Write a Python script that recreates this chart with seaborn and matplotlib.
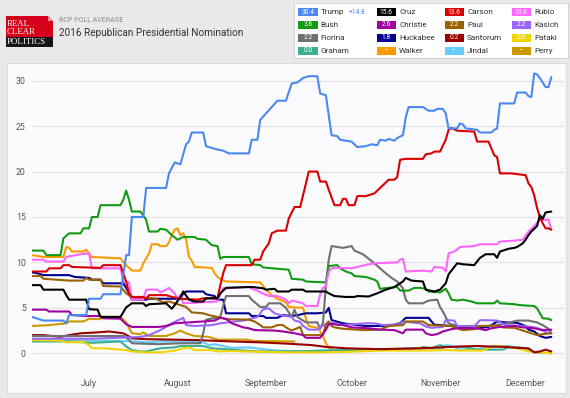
import numpy as np
import pandas as pd
import matplotlib
matplotlib.use("Agg")
import matplotlib.pyplot as plt
import seaborn as sns
from matplotlib.patches import Rectangle, Polygon

# ---------------- data: (days since 2015-06-11, RCP average %) ----------------
START = "2015-06-11"

TRUMP = [(0,4.0),(4,3.6),(11,3.6),(12,3.3),(13,4.2),(19,4.2),(20,6.0),(24,6.0),(25,6.5),(31,6.5),(33,10.8),(34,10.8),(35,15.0),(39,15.0),(40,18.2),(47,18.2),(48,19.8),(50,21.0),(52,20.8),(54,23.0),(55,23.3),(56,24.3),(60,24.3),(61,22.8),(64,22.5),(67,22.3),(69,22.0),(76,22.0),(77,23.5),(79,23.5),(80,25.7),(82,26.4),(84,27.1),(86,27.8),(89,27.8),(91,29.7),(93,29.8),(95,30.3),(97,30.5),(100,30.5),(101,28.6),(103,28.4),(105,24.0),(107,23.9),(108,23.5),(112,23.3),(114,22.7),(117,22.8),(119,23.0),(121,22.9),(122,23.5),(124,23.4),(125,23.6),(127,23.4),(128,23.7),(130,24.0),(131,26.0),(132,27.1),(137,27.1),(139,26.7),(141,26.7),(142,26.9),(144,26.9),(145,26.4),(146,24.75),(149,24.75),(150,25.3),(151,25.2),(152,24.75),(156,24.6),(157,24.3),(161,24.3),(162,24.6),(163,24.75),(164,27.5),(169,27.5),(170,28.7),(173,28.7),(174,28.3),(175,28.2),(176,30.8),(177,30.7),(178,30.3),(180,29.3),(181,29.3),(182,30.4)]

CRUZ = [(0,7.5),(3,7.5),(4,7.0),(11,7.0),(12,6.4),(13,5.9),(19,5.9),(20,4.85),(23,4.8),(24,4.0),(31,4.0),(33,5.05),(35,5.5),(39,5.5),(40,5.2),(41,5.4),(47,5.5),(49,4.9),(50,5.3),(52,6.2),(53,6.8),(55,5.9),(57,5.7),(60,5.7),(61,6.05),(65,6.05),(66,6.6),(68,7.2),(77,7.3),(81,7.15),(82,7.0),(85,7.1),(86,6.8),(90,6.8),(91,7.0),(95,7.0),(96,6.8),(103,6.8),(104,6.6),(106,6.3),(110,6.2),(113,6.2),(114,6.3),(118,6.25),(121,6.6),(124,7.0),(127,7.3),(130,7.9),(131,8.3),(133,8.0),(137,7.9),(138,7.0),(141,6.8),(143,7.0),(145,7.7),(146,8.7),(147,9.1),(149,9.9),(151,9.8),(155,9.7),(157,10.5),(159,10.9),(162,10.9),(163,10.5),(164,11.2),(167,11.5),(169,11.6),(170,11.7),(172,12.1),(173,12.5),(174,13.0),(175,13.4),(176,13.7),(177,14.0),(178,15.2),(179,14.8),(180,15.5),(182,15.6)]

CARSON = [(0,9.0),(5,9.0),(6,9.35),(10,9.35),(11,9.7),(13,9.7),(14,9.5),(24,9.4),(25,9.7),(31,9.7),(32,8.8),(33,7.9),(34,6.6),(35,6.2),(39,6.2),(40,6.0),(41,6.4),(47,6.4),(49,6.2),(52,6.0),(58,5.9),(60,6.05),(65,6.05),(66,7.5),(67,8.8),(68,9.7),(77,9.7),(78,10.3),(80,10.3),(81,11.2),(83,12.1),(84,13.2),(86,13.5),(89,13.5),(90,14.85),(92,16.1),(94,16.1),(97,20.0),(100,20.0),(101,18.9),(103,18.9),(104,18.0),(106,16.3),(108,16.3),(109,17.0),(110,17.0),(111,16.3),(113,16.3),(114,17.3),(117,17.3),(120,17.6),(122,18.2),(123,18.5),(125,19.1),(127,19.1),(128,19.4),(129,21.3),(131,21.4),(137,21.4),(138,21.9),(140,22.0),(141,22.2),(143,22.2),(145,23.5),(146,24.6),(147,24.8),(149,24.5),(155,24.4),(156,23.3),(160,23.3),(162,21.8),(163,21.6),(164,19.8),(168,19.8),(173,19.6),(174,18.7),(175,18.3),(176,17.4),(177,16.0),(178,15.0),(179,14.3),(180,13.75),(181,13.75),(182,13.6)]

RUBIO = [(0,10.3),(4,10.3),(5,10.1),(11,10.1),(12,10.6),(17,10.9),(20,11.0),(21,9.35),(31,9.35),(32,7.9),(34,7.8),(35,5.9),(39,5.9),(40,7.0),(44,7.0),(45,6.7),(47,7.0),(48,7.2),(50,6.6),(51,6.0),(52,6.4),(53,5.5),(65,5.7),(66,6.5),(67,7.15),(76,7.3),(77,7.1),(79,6.9),(80,6.7),(83,6.3),(86,6.3),(89,5.9),(90,5.5),(91,5.8),(95,5.5),(96,5.2),(100,5.2),(101,6.5),(102,7.2),(103,7.4),(104,9.0),(105,9.35),(107,9.4),(112,9.35),(114,9.5),(118,9.8),(120,9.9),(124,9.95),(128,10.0),(129,10.3),(130,10.4),(131,9.0),(137,9.1),(140,9.0),(141,9.5),(144,9.4),(145,9.0),(146,11.0),(148,11.2),(150,11.7),(155,11.8),(157,12.0),(163,12.0),(164,12.3),(169,12.4),(172,12.5),(174,13.4),(176,14.0),(178,14.7),(181,14.7),(182,13.6)]

BUSH = [(0,11.3),(4,11.3),(5,10.8),(10,10.8),(11,12.65),(13,13.2),(17,13.2),(18,13.75),(20,13.75),(21,15.0),(23,15.0),(24,16.3),(31,16.3),(32,16.9),(33,17.9),(34,16.9),(35,15.6),(38,15.6),(40,14.7),(41,13.4),(44,13.4),(45,13.7),(47,13.6),(49,13.0),(51,12.5),(53,12.8),(57,12.8),(58,12.6),(61,12.5),(63,11.9),(65,11.8),(66,10.4),(67,10.6),(76,10.6),(77,9.8),(80,9.7),(81,9.45),(86,9.3),(90,9.2),(91,8.2),(95,8.1),(96,7.9),(103,7.8),(104,9.6),(107,9.7),(108,9.35),(110,9.0),(112,8.8),(113,8.5),(117,8.4),(120,8.1),(121,7.9),(122,7.1),(128,7.3),(129,6.9),(132,6.9),(134,7.2),(136,7.2),(138,7.1),(139,6.8),(143,6.7),(145,7.1),(146,6.6),(147,5.9),(149,5.8),(151,5.9),(154,5.7),(156,5.5),(162,5.5),(163,5.8),(164,5.5),(169,5.4),(171,5.3),(176,5.2),(177,4.95),(178,4.4),(179,3.85),(181,3.8),(182,3.65)]

CHRISTIE = [(0,4.8),(5,4.8),(6,4.6),(13,4.6),(14,4.2),(19,4.1),(24,4.1),(25,3.85),(31,3.8),(33,3.2),(35,2.9),(44,2.9),(46,2.95),(48,3.1),(50,3.3),(55,3.4),(60,3.5),(64,3.6),(66,3.9),(68,3.8),(70,3.3),(74,2.85),(76,2.75),(78,2.55),(85,2.5),(88,2.4),(92,2.2),(95,2.0),(96,1.7),(101,1.7),(103,2.6),(104,3.2),(106,3.2),(109,3.1),(112,2.85),(118,2.75),(122,2.6),(127,2.55),(130,2.2),(131,2.6),(137,2.6),(138,2.2),(140,2.0),(142,2.1),(144,2.4),(147,2.65),(149,2.75),(156,2.75),(159,2.55),(161,2.75),(164,2.9),(169,3.0),(172,2.85),(176,2.75),(179,2.55),(182,2.6)]

PAUL = [(0,8.5),(3,8.5),(4,8.2),(13,8.0),(18,8.0),(19,8.3),(20,8.1),(24,8.1),(25,7.4),(31,7.35),(33,6.6),(35,6.15),(43,6.05),(46,5.6),(48,5.7),(52,5.3),(54,5.1),(55,4.8),(56,4.5),(60,4.4),(62,4.2),(65,4.0),(68,3.75),(76,3.7),(78,3.5),(80,3.1),(81,2.85),(84,2.85),(86,3.1),(88,3.1),(89,2.85),(91,2.5),(94,2.9),(95,2.0),(102,2.0),(103,3.2),(104,3.5),(105,3.0),(106,2.85),(109,2.7),(116,2.55),(122,2.6),(125,3.0),(130,3.1),(131,3.5),(137,3.5),(139,3.1),(147,3.0),(149,2.75),(151,2.55),(155,2.65),(157,3.0),(163,3.05),(165,2.85),(169,2.8),(172,2.5),(175,2.2),(177,2.0),(179,2.1),(182,2.2)]

KASICH = [(0,1.6),(20,1.6),(30,1.7),(38,1.8),(41,2.0),(44,2.4),(47,2.9),(49,3.3),(51,3.6),(53,3.9),(54,3.1),(57,3.0),(63,3.1),(66,3.3),(75,3.65),(79,4.0),(80,4.4),(81,4.85),(83,4.95),(85,4.4),(87,4.2),(91,4.0),(92,3.6),(94,3.45),(95,3.0),(97,2.6),(100,2.6),(101,2.9),(103,3.2),(106,3.4),(107,3.1),(113,3.2),(117,3.3),(120,3.3),(123,3.1),(129,3.2),(130,3.5),(133,3.4),(136,3.3),(138,2.95),(140,2.8),(144,2.9),(145,3.65),(148,3.6),(149,3.0),(155,2.95),(157,3.65),(163,3.6),(166,3.1),(172,3.0),(175,2.9),(178,2.7),(180,2.3),(182,2.2)]

FIORINA = [(0,1.9),(32,1.9),(34,1.5),(35,1.1),(44,1.0),(52,1.1),(59,1.1),(60,2.2),(61,3.7),(66,4.0),(67,5.2),(68,6.3),(76,6.3),(77,5.9),(80,5.1),(82,5.1),(83,5.5),(87,5.5),(89,5.0),(91,4.0),(92,4.8),(93,4.0),(96,3.4),(100,3.4),(101,2.7),(102,3.4),(103,7.5),(104,10.3),(105,11.8),(109,11.6),(112,11.8),(113,11.3),(116,10.9),(118,10.4),(120,9.9),(122,9.35),(124,8.8),(126,8.3),(128,7.9),(130,7.15),(131,5.9),(132,5.5),(137,5.5),(139,5.8),(142,5.9),(143,5.1),(144,4.6),(145,4.0),(146,3.3),(149,3.0),(160,3.0),(165,3.2),(170,3.6),(174,3.6),(177,3.4),(179,3.1),(181,2.7),(182,2.2)]

HUCKABEE = [(0,8.9),(2,8.8),(4,8.6),(13,8.6),(15,8.4),(20,8.3),(21,8.1),(24,8.1),(25,7.7),(32,7.7),(33,7.2),(34,6.6),(35,5.9),(40,5.9),(41,6.0),(52,6.0),(53,6.6),(54,6.8),(60,6.8),(61,6.5),(64,6.3),(65,5.9),(67,5.9),(68,4.4),(76,4.4),(77,4.1),(81,4.1),(82,3.9),(86,3.9),(88,4.2),(91,4.1),(93,4.2),(96,4.4),(100,4.4),(103,4.5),(104,5.0),(105,3.65),(109,3.3),(117,3.0),(125,3.0),(129,3.3),(131,3.9),(139,3.9),(140,3.5),(141,3.15),(147,3.0),(152,2.85),(155,2.7),(160,2.9),(162,3.3),(163,3.5),(166,3.4),(170,3.35),(173,3.0),(174,2.6),(176,2.4),(178,1.9),(180,1.7),(182,1.8)]

SANTORUM = [(0,2.0),(4,2.0),(10,1.8),(13,2.0),(17,2.2),(23,2.3),(27,2.4),(32,2.2),(34,1.85),(35,1.65),(40,1.55),(50,1.5),(58,1.45),(62,1.4),(70,1.3),(80,1.2),(90,1.05),(98,0.9),(103,0.7),(110,0.55),(122,0.45),(136,0.55),(140,0.6),(150,0.75),(156,0.8),(160,0.75),(166,0.7),(170,0.6),(174,0.55),(176,0.1),(178,0.2),(180,0.4),(182,0.2)]

PATAKI = [(0,1.45),(10,1.4),(12,1.2),(18,1.25),(20,0.9),(21,0.55),(25,0.55),(29,0.45),(33,0.35),(35,0.2),(40,0.1),(45,0.1),(50,0.3),(53,0.55),(55,0.65),(57,0.35),(62,0.35),(66,0.2),(70,0.25),(75,0.2),(90,0.1),(100,0.1),(110,0.15),(122,0.3),(136,0.3),(146,0.35),(150,0.3),(158,0.3),(160,0.6),(162,0.8),(166,0.75),(170,0.55),(174,0.2),(182,0.0)]

GRAHAM = [(0,1.3),(12,1.3),(21,1.15),(31,1.3),(33,0.75),(35,0.35),(38,0.2),(40,0.2),(42,0.35),(45,0.55),(50,0.65),(52,0.8),(60,0.8),(63,0.55),(68,0.45),(72,0.35),(79,0.2),(90,0.2),(100,0.25),(110,0.35),(120,0.4),(130,0.5),(136,0.55),(137,0.7),(140,0.55),(143,0.9),(145,0.7),(150,0.7),(153,0.6),(156,0.4),(165,0.4),(167,0.65),(170,0.65),(173,0.55),(175,0.3),(176,0.1),(182,0.0)]

WALKER = [(0,10.8),(4,10.6),(11,10.6),(12,11.7),(13,11.6),(14,11.2),(18,11.2),(19,11.4),(20,11.0),(21,10.6),(31,10.45),(33,9.7),(35,9.1),(38,9.1),(39,9.9),(41,11.0),(42,12.0),(44,12.0),(45,11.8),(47,11.8),(48,12.2),(49,13.0),(50,13.6),(51,13.75),(52,13.0),(53,13.2),(54,12.5),(55,10.6),(56,10.2),(57,9.5),(63,9.4),(64,8.8),(65,8.4),(67,8.0),(68,7.9),(80,7.8),(82,7.0),(84,6.4),(86,6.0),(89,5.6),(90,5.1),(95,5.0),(96,3.8),(97,3.0),(100,2.8),(101,2.4),(102,1.85),(103,1.1),(104,0.6),(105,0.5)]

JINDAL = [(0,1.4),(20,1.4),(30,1.35),(37,1.3),(40,1.2),(45,1.3),(55,1.3),(60,1.2),(62,0.9),(64,1.0),(67,0.8),(70,0.6),(76,0.65),(80,0.5),(84,0.35),(88,0.25),(95,0.2),(100,0.3),(105,0.35),(115,0.4),(122,0.45),(130,0.5),(136,0.55),(144,0.55),(145,0.9),(147,0.8),(150,0.4),(155,0.4),(160,0.6),(163,0.8),(167,0.8),(170,0.65),(173,0.4),(175,0.2)]

PERRY = [(0,3.0),(6,3.1),(12,3.3),(13,3.5),(18,3.5),(20,3.8),(24,3.75),(25,4.0),(31,4.0),(33,3.4),(35,2.2),(38,2.1),(39,2.3),(40,2.1),(41,1.9),(47,1.9),(50,2.2),(52,2.5),(54,2.2),(57,1.9),(62,1.8),(65,1.5),(75,1.5),(78,1.35),(92,1.3)]

CANDIDATES = ["Trump", "Cruz", "Carson", "Rubio", "Bush", "Christie", "Paul", "Kasich",
              "Fiorina", "Huckabee", "Santorum", "Pataki", "Graham", "Walker", "Jindal", "Perry"]
SERIES = [TRUMP, CRUZ, CARSON, RUBIO, BUSH, CHRISTIE, PAUL, KASICH,
          FIORINA, HUCKABEE, SANTORUM, PATAKI, GRAHAM, WALKER, JINDAL, PERRY]
LATEST = ["30.4", "15.6", "13.6", "13.6", "3.6", "2.6", "2.2", "2.2",
          "2.2", "1.8", "0.2", "0.0", "0.0", "--", "--", "--"]
TRUMP_LEAD = "+14.8"
COLORS = ["#4a88f2", "#000000", "#d80000", "#ff66ff", "#129a12", "#a000a0", "#9a6200", "#9966ff",
          "#707070", "#000090", "#990000", "#f2d600", "#3cb08c", "#ff9900", "#66ccff", "#cc9900"]
MONTHS = ["July", "August", "September", "October", "November", "December"]
MONTH_STARTS = ["2015-07-01", "2015-08-01", "2015-09-01", "2015-10-01", "2015-11-01", "2015-12-01"]
Y_TICKS = [0, 5, 10, 15, 20, 25, 30]

# ---------------- build table ----------------
rows = []
start = pd.Timestamp(START)
for name, ser in zip(CANDIDATES, SERIES):
    for d, v in ser:
        rows.append({"date": start + pd.Timedelta(days=d), "value": v, "candidate": name})
df = pd.DataFrame(rows)

# ---------------- figure ----------------
sns.set_theme(style="white")
plt.rcParams["font.family"] = ["Roboto", "DejaVu Sans"]

W, H = 570, 398
fig = plt.figure(figsize=(W / 100, H / 100), dpi=100)
fig.patch.set_facecolor("#e9e9e9")

def fx(x):
    return x / W

def fy(y):
    return 1 - y / H

# chart panel
fig.add_artist(Rectangle((fx(7), fy(393)), 559 / W, 330 / H, transform=fig.transFigure,
                         facecolor="#fbfbfd", edgecolor="#d6d6d6", lw=0.6, zorder=0))

ax = fig.add_axes([fx(32), fy(366.9), 533 / W, 299.8 / H])
ax.set_facecolor("none")
sns.lineplot(data=df, x="date", y="value", hue="candidate", hue_order=CANDIDATES[::-1],
             palette=dict(zip(CANDIDATES, COLORS)), estimator=None, linewidth=1.5,
             legend=False, ax=ax)
ax.set_ylim(-1.5, 31.5)
ax.set_xlim(start, start + pd.Timedelta(days=186.8))
ax.set_yticks(Y_TICKS)
ax.set_yticklabels([str(t) for t in Y_TICKS])
ax.set_xticks([pd.Timestamp(m) for m in MONTH_STARTS])
ax.set_xticklabels(MONTHS)
ax.grid(axis="y", color="#e2e2e2", lw=0.9)
ax.grid(axis="x", visible=False)
ax.set_axisbelow(True)
for s in ax.spines.values():
    s.set_visible(False)
ax.tick_params(axis="y", length=0, pad=4.5, labelsize=6.3, labelcolor="#555555")
ax.tick_params(axis="x", length=0, pad=9, labelsize=6.3, labelcolor="#555555")
ax.set_xlabel("")
ax.set_ylabel("")

# ---------------- header: logo ----------------
fig.add_artist(Rectangle((fx(6), fy(37.5)), 47 / W, 21.5 / H, transform=fig.transFigure,
                         facecolor="#d7001a", edgecolor="none"))
fig.add_artist(Rectangle((fx(6), fy(47)), 47 / W, 9.5 / H, transform=fig.transFigure,
                         facecolor="#151515", edgecolor="none"))
fig.add_artist(Polygon([(fx(48), fy(16)), (fx(53), fy(16)), (fx(53), fy(21))], closed=True,
                       transform=fig.transFigure, facecolor="#e9e9e9", edgecolor="none"))
fig.add_artist(Polygon([(fx(48), fy(16)), (fx(48), fy(21)), (fx(53), fy(21))], closed=True,
                       transform=fig.transFigure, facecolor="#f08a96", edgecolor="none"))
for txt, yy in [("REAL", 24.5), ("CLEAR", 32), ("POLITICS", 42.3)]:
    fig.text(fx(7), fy(yy), txt, color="white", fontsize=6.4, family=["Liberation Serif"],
             va="center", ha="left")

fig.text(fx(59), fy(20), "RCP POLL AVERAGE", color="#8a8a8a", fontsize=5.0, va="center", ha="left")
fig.text(fx(59), fy(33), "2016 Republican Presidential Nomination", color="#333333",
         fontsize=7.2, va="center", ha="left")

# ---------------- legend box ----------------
fig.add_artist(Rectangle((fx(294), fy(58)), 274 / W, 55 / H, transform=fig.transFigure,
                         facecolor="white", edgecolor="#cfcfcf", lw=0.6))
col_x = [298.3, 376.7, 444.5, 511.7]
row_y = [12.3, 25.0, 37.7, 50.7]
for i, (name, val, col) in enumerate(zip(CANDIDATES, LATEST, COLORS)):
    r, c = divmod(i, 4)
    bx, by = col_x[c], row_y[r]
    fig.add_artist(Rectangle((fx(bx), fy(by + 4)), 19.5 / W, 8 / H, transform=fig.transFigure,
                             facecolor=col, edgecolor="none"))
    fig.text(fx(bx + 9.75), fy(by), val, color="white", fontsize=4.8, ha="center", va="center")
    fig.text(fx(bx + 22.5), fy(by), name, color="#333333", fontsize=5.9, ha="left", va="center")
fig.text(fx(349), fy(12.3), TRUMP_LEAD, color="#4a88f2", fontsize=4.8, ha="left", va="center")

fig.savefig("out.png", dpi=100, facecolor=fig.get_facecolor())
